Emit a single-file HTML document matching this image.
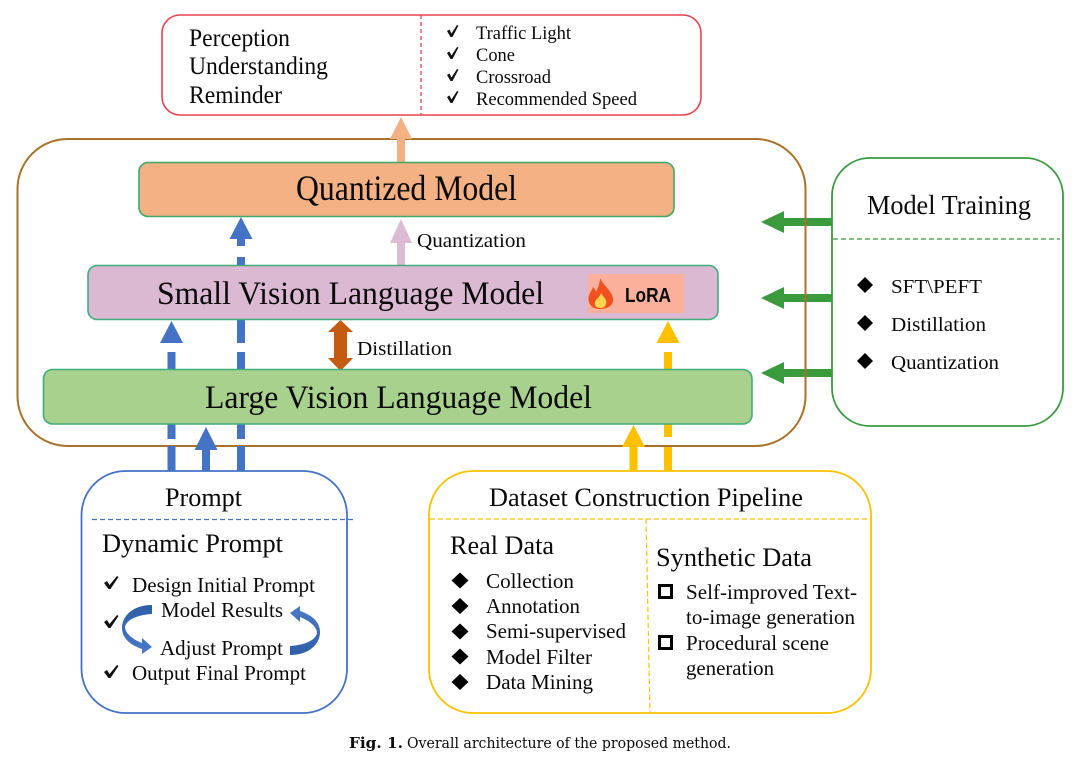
<!DOCTYPE html>
<html>
<head>
<meta charset="utf-8">
<style>
html,body{margin:0;padding:0;background:#fff;width:1080px;height:767px;overflow:hidden}
svg{display:block}
text{font-family:"Liberation Serif",serif;fill:#0a0a0a}
</style>
</head>
<body>
<svg width="1080" height="767" viewBox="0 0 1080 767" xmlns="http://www.w3.org/2000/svg">
<rect width="1080" height="767" fill="#fff"/>

<!-- Green arrows -->
<g fill="#3a9a3e">
<polygon points="761,222 784,211 784,218 832,218 832,226 784,226 784,233"/>
<polygon points="761,298 784,287 784,294 832,294 832,302 784,302 784,309"/>
<polygon points="761,373 784,362 784,369 832,369 832,377 784,377 784,384"/>
</g>

<!-- Brown container -->
<rect x="17.500" y="139" width="788" height="307" rx="50" ry="50" fill="none" stroke="#a9722b" stroke-width="2"/>

<!-- Output box -->
<rect x="162" y="15" width="539" height="100" rx="18" ry="18" fill="#fff" stroke="#e8424f" stroke-width="1.600"/>
<line x1="421" y1="15" x2="421" y2="115" stroke="#e8424f" stroke-width="1.300" stroke-dasharray="4 3"/>

<!-- Arrows between models -->
<polygon points="401,117 412,139 405,139 405,162 397,162 397,139 390,139" fill="#f4b183"/>
<polygon points="401,219 412,243 405,243 405,265 397,265 397,243 390,243" fill="#dcbcd4"/>

<g fill="#4472c4">
<polygon points="241,217 252.500,239 245,239 245,246 237,246 237,239 229.500,239"/>
<rect x="237" y="257" width="8" height="9"/>
<rect x="237" y="320" width="8" height="23"/>
<rect x="237" y="352" width="8" height="18"/>
<rect x="237" y="424" width="8" height="15"/>
<rect x="237" y="446" width="8" height="25"/>
<polygon points="171.500,321 183,343 160,343"/>
<rect x="167.500" y="352" width="8" height="18"/>
<rect x="167.500" y="424" width="8" height="15"/>
<rect x="167.500" y="446" width="8" height="25"/>
<polygon points="206,427 217.500,450 210,450 210,471 202,471 202,450 194.500,450"/>
</g>
<g fill="#ffc000">
<polygon points="668,321 679.500,343 656.500,343"/>
<rect x="664" y="352" width="8" height="18"/>
<rect x="664" y="424" width="8" height="13"/>
<rect x="664" y="447" width="8" height="24"/>
<polygon points="633.500,425 645,447 637.500,447 637.500,471 629.500,471 629.500,447 622,447"/>
</g>
<polygon points="340.500,320 353,332 347,332 347,358 353,358 340.500,371 328,358 334,358 334,332 328,332" fill="#c55a11"/>

<!-- Model bars -->
<rect x="139" y="162.500" width="535" height="54" rx="9" ry="9" fill="#f4b183" stroke="#3fa866" stroke-width="1.600"/>
<rect x="88" y="265.500" width="630" height="54" rx="9" ry="9" fill="#dcb9d3" stroke="#3fae7a" stroke-width="1.600"/>
<rect x="43.500" y="369.500" width="708.500" height="54.500" rx="9" ry="9" fill="#a9d18e" stroke="#3fae7a" stroke-width="1.600"/>

<!-- LoRA badge -->
<rect x="588" y="274" width="96" height="39" fill="#fbb09b"/>
<path d="M600 278 C603 285 611 290 613 298 C614 306 607 309 600 309 C593 309 588 305 588.500 298 C589 293 592 291 593 287 C595 289 596 291 596 292 C598 288 600 283 600 278Z" fill="#f0511f"/>
<path d="M601 293 C603 297 608 300 606 304 C605 307 603 308 601 308 C597 308 594 306 595 302 C596 299 600 297 601 293Z" fill="#ffd54f"/>
<text x="625" y="302" font-size="20" textLength="46" lengthAdjust="spacingAndGlyphs" style="font-family:'Liberation Sans',sans-serif;font-weight:bold">LoRA</text>

<!-- Lower & right boxes -->
<rect x="832" y="158" width="231" height="268" rx="38" ry="38" fill="#fff" stroke="#3a9a3e" stroke-width="1.800"/>
<line x1="833" y1="239" x2="1060" y2="239" stroke="#3a9a3e" stroke-width="1.200" stroke-dasharray="5 3"/>
<rect x="81.500" y="471" width="265.500" height="242" rx="44" ry="44" fill="#fff" stroke="#4472c4" stroke-width="1.800"/>
<line x1="92" y1="519.500" x2="355" y2="519.500" stroke="#4472c4" stroke-width="1.200" stroke-dasharray="5 3"/>
<rect x="429" y="471" width="442" height="242" rx="44" ry="44" fill="#fff" stroke="#ffc000" stroke-width="1.800"/>
<line x1="430" y1="519" x2="870" y2="519" stroke="#ffc000" stroke-width="1.200" stroke-dasharray="5 3"/>
<line x1="646" y1="519" x2="650" y2="713" stroke="#ffc000" stroke-width="1.200" stroke-dasharray="5 3"/>

<!-- Top box text -->
<text x="189" y="46" font-size="25" textLength="101" lengthAdjust="spacingAndGlyphs">Perception</text>
<text x="189" y="74" font-size="25" textLength="139" lengthAdjust="spacingAndGlyphs">Understanding</text>
<text x="189" y="103" font-size="25" textLength="93" lengthAdjust="spacingAndGlyphs">Reminder</text>
<text x="476" y="39" font-size="19" textLength="95" lengthAdjust="spacingAndGlyphs">Traffic Light</text>
<text x="476" y="61" font-size="19" textLength="39" lengthAdjust="spacingAndGlyphs">Cone</text>
<text x="476" y="83" font-size="19" textLength="75" lengthAdjust="spacingAndGlyphs">Crossroad</text>
<text x="476" y="105" font-size="19" textLength="161" lengthAdjust="spacingAndGlyphs">Recommended Speed</text>
<g fill="#111">
<path d="M447 31 L449.500 29.500 L451.500 33.500 L457 25 L458.500 25.500 L452.500 37 L450.500 37Z"/>
<path d="M447 53 L449.500 51.500 L451.500 55.500 L457 47 L458.500 47.500 L452.500 59 L450.500 59Z"/>
<path d="M447 75 L449.500 73.500 L451.500 77.500 L457 69 L458.500 69.500 L452.500 81 L450.500 81Z"/>
<path d="M447 97 L449.500 95.500 L451.500 99.500 L457 91 L458.500 91.500 L452.500 103 L450.500 103Z"/>
</g>

<!-- Model labels -->
<text x="296" y="200" font-size="36" textLength="221" lengthAdjust="spacingAndGlyphs">Quantized Model</text>
<text x="417" y="247" font-size="20" textLength="109" lengthAdjust="spacingAndGlyphs">Quantization</text>
<text x="157" y="304" font-size="33" textLength="387" lengthAdjust="spacingAndGlyphs">Small Vision Language Model</text>
<text x="357" y="355" font-size="20" textLength="95" lengthAdjust="spacingAndGlyphs">Distillation</text>
<text x="205" y="408" font-size="33" textLength="387" lengthAdjust="spacingAndGlyphs">Large Vision Language Model</text>

<!-- Model training -->
<text x="867" y="214" font-size="27" textLength="164" lengthAdjust="spacingAndGlyphs">Model Training</text>
<text x="891" y="293" font-size="20" textLength="91" lengthAdjust="spacingAndGlyphs">SFT\PEFT</text>
<text x="891" y="331" font-size="20" textLength="95" lengthAdjust="spacingAndGlyphs">Distillation</text>
<text x="891" y="369" font-size="20" textLength="108" lengthAdjust="spacingAndGlyphs">Quantization</text>
<g fill="#000">
<polygon points="865,277 873,285 865,293 857,285"/>
<polygon points="865,315 873,323 865,331 857,323"/>
<polygon points="865,353 873,361 865,369 857,361"/>
</g>

<!-- Prompt -->
<text x="165" y="506" font-size="26" textLength="77" lengthAdjust="spacingAndGlyphs">Prompt</text>
<text x="102" y="552" font-size="26" textLength="181" lengthAdjust="spacingAndGlyphs">Dynamic Prompt</text>
<text x="132" y="592" font-size="21" textLength="183" lengthAdjust="spacingAndGlyphs">Design Initial Prompt</text>
<text x="161" y="617" font-size="21" textLength="122" lengthAdjust="spacingAndGlyphs">Model Results</text>
<text x="160" y="655" font-size="21" textLength="123" lengthAdjust="spacingAndGlyphs">Adjust Prompt</text>
<text x="132" y="680" font-size="21" textLength="174" lengthAdjust="spacingAndGlyphs">Output Final Prompt</text>
<g fill="#111">
<path d="M104 583 L107 581 L109.500 585 L117 576 L118.500 577 L110.500 589 L108.500 589Z"/>
<path d="M104 622 L107 620 L109.500 624 L117 615 L118.500 616 L110.500 628 L108.500 628Z"/>
<path d="M104 672 L107 670 L109.500 674 L117 665 L118.500 666 L110.500 678 L108.500 678Z"/>
</g>
<defs>
<linearGradient id="cv" x1="0" y1="0" x2="0" y2="1"><stop offset="0" stop-color="#2f5da6"/><stop offset="1" stop-color="#4a7bc8"/></linearGradient>
</defs>
<path id="cvl" d="M152 605 L152 614 C135 615 126 621 125 627 C125 633 132 639 142 643 L142 638 L152 647 L142 654 L142 649 C130 645 122 638 122 628 C122 615 134 605 152 605Z" fill="url(#cv)"/>
<path d="M152 605 L152 614 C135 615 126 621 125 627 C125 633 132 639 142 643 L142 638 L152 647 L142 654 L142 649 C130 645 122 638 122 628 C122 615 134 605 152 605Z" fill="url(#cv)" transform="rotate(180 221 630)"/>

<!-- Dataset -->
<text x="489" y="506" font-size="26" textLength="314" lengthAdjust="spacingAndGlyphs">Dataset Construction Pipeline</text>
<text x="450" y="554" font-size="26" textLength="104" lengthAdjust="spacingAndGlyphs">Real Data</text>
<text x="486" y="588" font-size="21" textLength="88" lengthAdjust="spacingAndGlyphs">Collection</text>
<text x="486" y="613" font-size="21" textLength="94" lengthAdjust="spacingAndGlyphs">Annotation</text>
<text x="486" y="638" font-size="21" textLength="140" lengthAdjust="spacingAndGlyphs">Semi-supervised</text>
<text x="486" y="664" font-size="21" textLength="106" lengthAdjust="spacingAndGlyphs">Model Filter</text>
<text x="486" y="689" font-size="21" textLength="107" lengthAdjust="spacingAndGlyphs">Data Mining</text>
<g fill="#000">
<polygon points="460,572.500 468.500,580.500 460,588.500 451.500,580.500"/>
<polygon points="460,598 468.500,606 460,614 451.500,606"/>
<polygon points="460,623.500 468.500,631.500 460,639.500 451.500,631.500"/>
<polygon points="460,648.500 468.500,656.500 460,664.500 451.500,656.500"/>
<polygon points="460,674 468.500,682 460,690 451.500,682"/>
</g>
<text x="656" y="566" font-size="26" textLength="156" lengthAdjust="spacingAndGlyphs">Synthetic Data</text>
<text x="686" y="599" font-size="21" textLength="171" lengthAdjust="spacingAndGlyphs">Self-improved Text-</text>
<text x="686" y="624" font-size="21" textLength="169" lengthAdjust="spacingAndGlyphs">to-image generation</text>
<text x="686" y="650" font-size="21" textLength="143" lengthAdjust="spacingAndGlyphs">Procedural scene</text>
<text x="686" y="675" font-size="21" textLength="88" lengthAdjust="spacingAndGlyphs">generation</text>
<rect x="659.500" y="585.500" width="12" height="12" fill="none" stroke="#000" stroke-width="3"/>
<rect x="659.500" y="636.500" width="12" height="12" fill="none" stroke="#000" stroke-width="3"/>

<!-- Caption -->
<text x="349" y="748" font-size="15" font-weight="bold" textLength="54" lengthAdjust="spacingAndGlyphs" style="font-family:'DejaVu Serif',serif">Fig. 1.</text>
<text x="407" y="748" font-size="15" textLength="324" lengthAdjust="spacingAndGlyphs" style="font-family:'DejaVu Serif',serif">Overall architecture of the proposed method.</text>
</svg>
</body>
</html>
